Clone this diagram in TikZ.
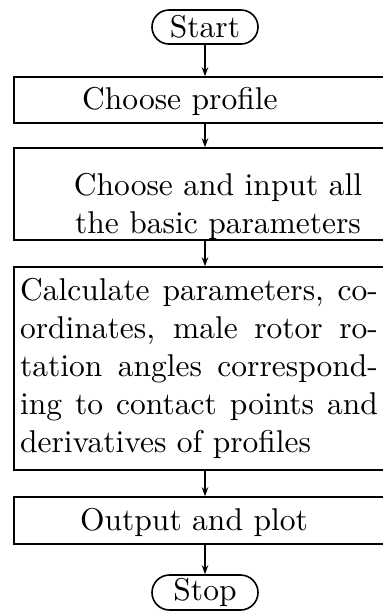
\documentclass[tikz,border=0pt]{standalone}
\usepackage{graphicx}
\usetikzlibrary{arrows.meta,shapes.misc}
\newcommand{\fctext}[1]{\scalebox{3.15}{\fontsize{10}{11.5}\selectfont #1}}
\newcommand{\fcpara}[1]{\scalebox{3.15}{\fontsize{10}{12}\selectfont #1}}
\begin{document}
\begin{tikzpicture}[x=1pt,y=-1pt,
  box/.style={draw, line width=1.6pt, inner sep=0pt, minimum width=382pt},
  term/.style={draw, line width=1.6pt, rounded rectangle, minimum width=106pt,
    inner sep=0pt},
  txt/.style={inner sep=0pt},
  arr/.style={line width=1.3pt, -{Stealth[length=9pt,width=6.5pt]}}]
\useasboundingbox (0,0) rectangle (383,614);
\clip (0,0) rectangle (383,614);
% terminals
\node[term, minimum height=34pt] (start) at (205,27) {\fctext{Start}};
\node[term, minimum height=35pt] (stop) at (205,592.5) {\fctext{Stop\vphantom{S}}};
% process boxes
\node[box, minimum height=46pt] (b1) at (205,100) {};
\node[box, minimum height=92pt] (b2) at (205,194) {};
\node[box, minimum height=203pt] (b3) at (205,368.5) {};
\node[box, minimum height=47pt] (b4) at (205,520.5) {};
% texts
\node[txt, anchor=base west] (t1) at (82,109) {\fctext{Choose profile}};
\node[txt] (t2) at (218,207) {\fcpara{\begin{tabular}{@{}c@{}}Choose and input all\\the basic parameters\end{tabular}}};
\node[txt] (t3) at (199,369) {\fcpara{\begin{tabular}{@{}l@{}}%
  \makebox[113.6pt][s]{Calculate parameters, co-}\\
  \makebox[113.6pt][s]{ordinates, male rotor ro-}\\
  \makebox[113.6pt][s]{tation angles correspond-}\\
  \makebox[113.6pt][s]{ing to contact points and}\\
  derivatives of profiles\end{tabular}}};
\node[txt, anchor=base west] (t4) at (80,530) {\fctext{Output and plot}};
% connectors
\draw[arr] (start.south) -- (b1.north);
\draw[arr] (b1.south) -- (b2.north);
\draw[arr] (b2.south) -- (b3.north);
\draw[arr] (b3.south) -- (b4.north);
\draw[arr] (b4.south) -- (stop.north);
\end{tikzpicture}
\end{document}
